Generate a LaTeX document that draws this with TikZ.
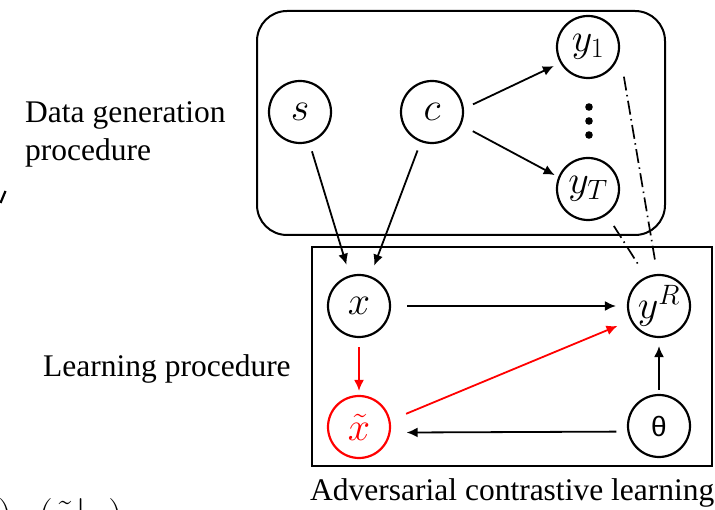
\RequirePackage{fix-cm}
\documentclass[tikz,border=0pt]{standalone}
\usepackage{fontspec}
\setmainfont{Liberation Serif}
\newfontfamily\symsans{Liberation Sans}
\usetikzlibrary{arrows.meta,calc}

\begin{document}
\begin{tikzpicture}[x=1pt,y=-1pt,
  var/.style={circle,draw,line width=2.2pt,minimum size=62pt,inner sep=0pt,
              font=\fontsize{40}{40}\selectfont},
  arr/.style={line width=1.8pt,-{Latex[length=11pt,width=10pt]}},
  redarr/.style={arr,red},
  dashdot/.style={line width=1.7pt,dash pattern=on 14pt off 4.5pt on 1.5pt off 4.5pt},
  lbl/.style={font=\fontsize{31.5}{36}\selectfont,inner sep=0pt,anchor=base west},
  frame/.style={line width=2pt}
]
\useasboundingbox (0,0) rectangle (715,510);

% group frames
\draw[frame,rounded corners=30pt] (257,11) rectangle (665,235);
\draw[frame] (312,247) rectangle (712,466);

% variables
\node[var] (s)  at (300,112) {$s$};
\node[var] (c)  at (432,112) {$c$};
\node[var] (y1) at (588,47)  {$y_1$};
\node[var] (yT) at (588,189) {$y_T$};
\node[var] (x)  at (359,306) {$x$};
\node[var] (yR) at (659,306) {$y^R$};
\node[var,red] (xt) at (359,427) {$\tilde{x}$};
\node[var,font=\symsans\fontsize{28}{28}\selectfont] (th) at (659,426) {θ};

% vertical ellipsis between y_1 and y_T
\foreach \yy in {107,121,135} \fill (589,\yy) circle (3.8pt);

% labels
\node[lbl] (dg1) at (25,123) {Data generation};
\node[lbl] (dg2) at (25,161) {procedure};
\node[lbl] (lp)  at (43,377) {Learning procedure};
\node[lbl] (acl) at (310,500) {Adversarial contrastive learning};

% generation arrows
\draw[arr,shorten <=9pt,shorten >=11pt] (s) -- (x);
\draw[arr,shorten <=9pt,shorten >=11pt] (c) -- (x);
\draw[arr,shorten <=10pt,shorten >=7pt] (c.6) -- (y1.210);
\draw[arr,shorten <=13pt,shorten >=4pt] (c.-24) -- (yT.158);

% learning arrows
\draw[arr,shorten <=16pt,shorten >=11pt] (x) -- (yR);
\draw[redarr,shorten <=9pt,shorten >=4pt] (x) -- (xt);
\draw[redarr,shorten <=17pt,shorten >=14pt] (xt.12) -- (yR.207);
\draw[arr,shorten <=11pt,shorten >=16pt] (th.190) -- (xt.-10);
\draw[arr,shorten <=4pt,shorten >=8pt] (th) -- (yR);

% undirected links
\draw[dashdot,shorten <=25pt,shorten >=12pt] (y1.-9) -- (yR.93);
\draw[dashdot,shorten <=13pt,shorten >=12pt] (yT.-54) -- (yR.114);

% text cut at the left and bottom edges
\draw[line width=2.2pt] (0.5,203) -- (5.5,191);
\node[inner sep=0pt,anchor=base west,font=\fontsize{40}{40}\selectfont] (cut) at (-2,528) {$)\,p(\tilde{x}|x)$};
\end{tikzpicture}
\end{document}
